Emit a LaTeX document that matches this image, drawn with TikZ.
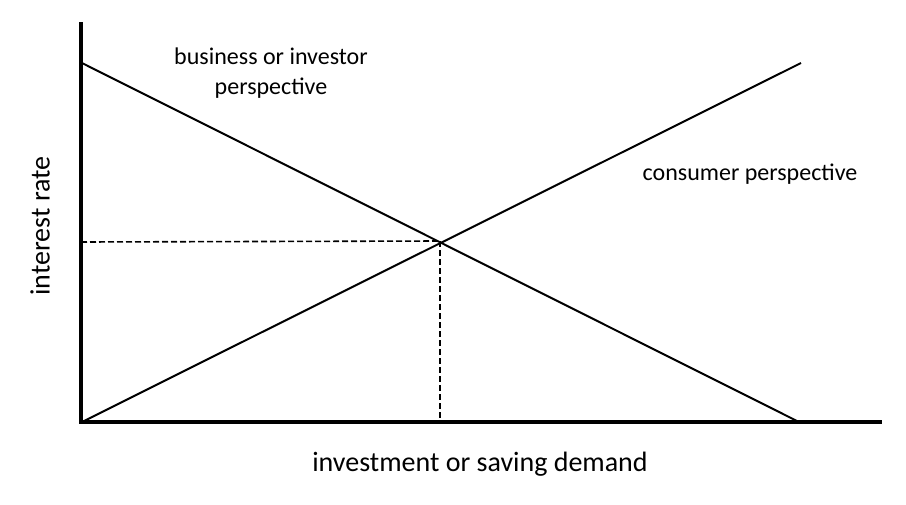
\documentclass[tikz,border=0pt]{standalone}
\usepackage{fontspec}
\setmainfont{Carlito}
\begin{document}
\begin{tikzpicture}[x=1pt,y=-1pt,
  axis/.style={line width=3.5pt},
  curve/.style={line width=2pt},
  guide/.style={line width=1.6pt, dash pattern=on 6pt off 3pt},
  lbl/.style={font=\fontsize{24}{30}\selectfont, align=center, inner sep=0pt},
  biglbl/.style={font=\fontsize{28}{32}\selectfont, inner sep=0pt}]
\useasboundingbox (0,0) rectangle (906,504);
\coordinate (ytop) at (81,22);
\coordinate (o) at (81,422);
\coordinate (xend) at (882,422);
\coordinate (bstart) at (82,63);
\coordinate (bend) at (797,421);
\coordinate (cstart) at (82,422);
\coordinate (cend) at (801,63);
\coordinate (eq) at (440,241);
\coordinate (yeq) at (81,242);
\coordinate (xeq) at (440,421);
\draw[guide] (yeq) -- (eq);
\draw[guide] (eq) -- (xeq);
\draw[curve] (bstart) -- (bend);
\draw[curve] (cstart) -- (cend);
\draw[axis] (ytop) -- (o) -- (xend);
\node[lbl] (bl) at (271,73) {business or investor\\perspective};
\node[lbl] (cl) at (750,174) {consumer perspective};
\node[biglbl, rotate=90] (yl) at (40,226) {interest rate};
\node[biglbl] (xl) at (480,464) {investment or saving demand};
\end{tikzpicture}
\end{document}
